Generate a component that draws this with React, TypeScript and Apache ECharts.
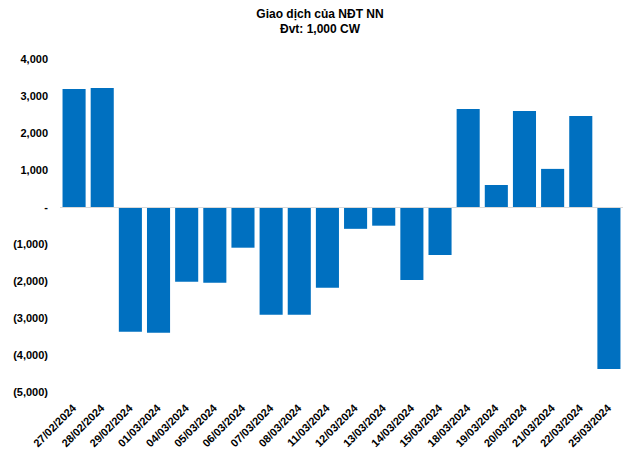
import React, { useEffect, useRef } from "react";
import * as echarts from "echarts";

const categories = [
  "27/02/2024", "28/02/2024", "29/02/2024", "01/03/2024", "04/03/2024",
  "05/03/2024", "06/03/2024", "07/03/2024", "08/03/2024", "11/03/2024",
  "12/03/2024", "13/03/2024", "14/03/2024", "15/03/2024", "18/03/2024",
  "19/03/2024", "20/03/2024", "21/03/2024", "22/03/2024", "25/03/2024",
];
const values = [
  3190, 3215, -3370, -3400, -2020,
  -2045, -1100, -2910, -2910, -2180,
  -590, -505, -1970, -1300, 2650,
  595, 2595, 1030, 2460, -4380,
];
const titleLines = ["Giao dịch của NĐT NN", "Đvt: 1,000 CW"];

const fmt = (v: number) => {
  if (v === 0) return "-";
  const s = Math.abs(v).toLocaleString("en-US");
  return v < 0 ? `(${s})` : s;
};

export default function App() {
  const ref = useRef<HTMLDivElement>(null);
  useEffect(() => {
    document.body.style.margin = "0";
    const chart = echarts.init(ref.current!, null, { renderer: "svg" });
    const font = "'Liberation Sans', Arial, sans-serif";
    chart.setOption({
      animation: false,
      title: {
        text: titleLines.join("\n"),
        left: "center",
        top: 1,
        textStyle: { fontFamily: font, fontSize: 12, fontWeight: "bold", color: "#000", lineHeight: 15 },
      },
      grid: { left: 60, right: 17, top: 59, bottom: 68 },
      xAxis: {
        type: "category",
        data: categories,
        axisLine: { show: false },
        axisTick: { show: false },
        axisLabel: {
          rotate: 45,
          interval: 0,
          margin: 14,
          fontFamily: font,
          fontSize: 11,
          fontWeight: "bold",
          color: "#000",
        },
      },
      yAxis: {
        type: "value",
        min: -5000,
        max: 4000,
        interval: 1000,
        splitLine: { show: false },
        axisLine: { show: false },
        axisTick: { show: false },
        axisLabel: {
          formatter: fmt,
          margin: 12,
          fontFamily: font,
          fontSize: 11,
          fontWeight: "bold",
          color: "#000",
        },
      },
      series: [
        {
          type: "bar",
          data: values,
          barCategoryGap: "18%",
          itemStyle: { color: "#0070C0" },
          markLine: {
            silent: true,
            symbol: "none",
            label: { show: false },
            lineStyle: { color: "#d9d9d9", type: "solid", width: 1 },
            data: [{ yAxis: 0 }],
          },
        },
      ],
    });
    return () => chart.dispose();
  }, []);
  return <div ref={ref} style={{ width: 640, height: 460 }} />;
}
